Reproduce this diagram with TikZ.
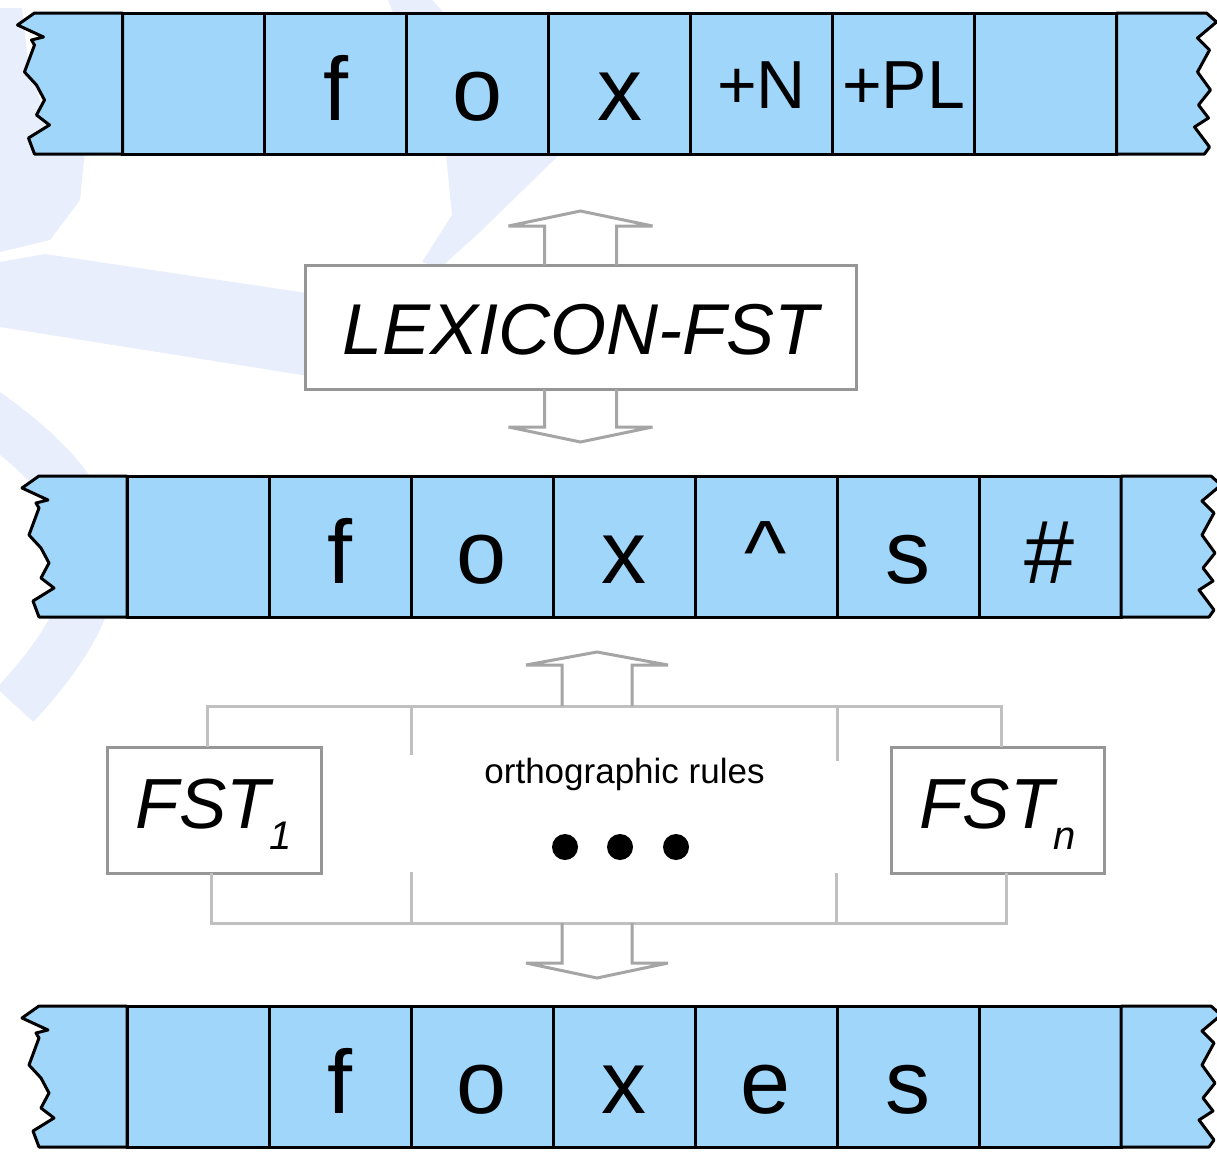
\documentclass[tikz,border=0pt]{standalone}
\usepackage{fontspec}
\setmainfont{Liberation Sans}
\definecolor{tapeblue}{RGB}{160,214,250}
\definecolor{boxgray}{RGB}{150,150,150}
\definecolor{rulegray}{RGB}{192,192,192}
\definecolor{arrowgray}{RGB}{165,165,165}
\definecolor{wmark}{RGB}{232,238,252}
\newcommand\tagtext[1]{\raisebox{12pt}{\fontsize{68}{68}\selectfont #1}}
\begin{document}
\begin{tikzpicture}[x=1pt,y=-1pt,
  tapeend/.style={fill=tapeblue,draw=black,line width=3pt,line join=round},
  cell/.style={draw=black,line width=3pt,fill=tapeblue,minimum width=142pt,
    minimum height=141pt,inner sep=0pt,outer sep=0pt,text height=73pt,text depth=0pt,
    font=\fontsize{90}{90}\selectfont},
  fstbox/.style={draw=boxgray,line width=3pt,fill=white,inner sep=0pt,outer sep=0pt},
  hollow/.style={draw=arrowgray,line width=3pt,line join=miter,miter limit=1.5},
  bracket/.style={draw=rulegray,line width=3pt},
  dot/.style={circle,fill=black,inner sep=0pt,minimum size=26pt}]
\useasboundingbox (0,0) rectangle (1217,1151);
\clip (0,0) rectangle (1217,1151);
\fill[white] (0,0) rectangle (1217,1151);

% faint background watermark
\begin{scope}[wmark]
  \fill (0,8) -- (22,8) -- (28,60) -- (45,118) -- (85,150) -- (80,200) -- (50,240) -- (0,252) -- cycle;
  \fill (45,254) -- (340,298) -- (340,381) -- (0,327) -- (0,262) -- cycle;
  \fill (388,0) -- (432,0) -- (470,40) -- (560,154) -- (523,190) -- (480,232) -- (440,268)
        -- (422,262) -- (452,215) -- (446,154) -- (420,80) -- cycle;
  \draw[line width=50pt] (-25,405) .. controls (105,495) and (140,570) .. (15,705);
\end{scope}

% upper tape: lexical form
\foreach \n/\x/\t in {a/193.5/{}, b/335.5/f, c/477.5/o, d/619.5/x,
                      e/761.5/{\tagtext{+N}}, f/903.5/{\tagtext{+PL}}, g/1045.5/{}}
  \node[cell] (u\n) at (\x,83.5) {\t};
% middle tape: intermediate form
\foreach \n/\x/\t in {a/198/{}, b/340/f, c/482/o, d/624/x, e/766/\^{}, f/908/s, g/1050/\#}
  \node[cell] (m\n) at (\x,546.5) {\t};
% lower tape: surface form
\foreach \n/\x/\t in {a/198/{}, b/340/f, c/482/o, d/624/x, e/766/e, f/908/s, g/1050/{}}
  \node[cell] (l\n) at (\x,1076.5) {\t};

% torn tape ends
\foreach \p in {u,m,l}{
  \draw[tapeend] (\p a.north west) -- ++(-88,0) -- ++(-17,12) -- ++(26,12) -- ++(-12,3)
     -- ++(3,5) -- ++(-10,27) -- ++(12,13) -- ++(8,15) -- ++(-8,15) -- ++(13,10)
     -- ++(-21,13) -- ++(6,16) -- (\p a.south west) -- cycle;
  \draw[tapeend] (\p g.north east) -- ++(90,0) -- ++(10,9) -- ++(-19,16) -- ++(12,12)
     -- ++(-12,22) -- ++(13,18) -- ++(-12,15) -- ++(10,13) -- ++(-14,9) -- ++(15,20)
     -- ++(-5,7) -- (\p g.south east) -- cycle;
}

% lexicon transducer
\node[fstbox,minimum width=551pt,minimum height=124pt,text height=54pt,text depth=0pt,
      font=\fontsize{72}{72}\selectfont\itshape] (lex) at (580.5,327) {LEXICON-FST};
\draw[hollow] ([xshift=-36pt]lex.north) -- ++(0,-39) -- ++(-36,0) -- ++(72,-15)
   -- ++(72,15) -- ++(-36,0) -- ++(0,39);
\draw[hollow] ([xshift=-36pt]lex.south) -- ++(0,38) -- ++(-36,0) -- ++(72,15)
   -- ++(72,-15) -- ++(-36,0) -- ++(0,-38);

% orthographic rule transducers
\node[fstbox,minimum width=214pt,minimum height=126pt,text height=50pt,text depth=14pt,
      font=\fontsize{71}{71}\selectfont\itshape] (fst1) at (214,810)
      {FST\raisebox{-21pt}{\fontsize{40}{40}\selectfont 1}};
\node[fstbox,minimum width=213pt,minimum height=126pt,text height=50pt,text depth=14pt,
      font=\fontsize{71}{71}\selectfont\itshape] (fstn) at (997.5,810)
      {FST\raisebox{-21pt}{\fontsize{40}{40}\selectfont n}};
\node[anchor=base,font=\fontsize{35}{35}\selectfont,inner sep=0pt] (ortho) at (624.5,783)
      {orthographic rules};
\node[dot] (d1) at (565,847) {};
\node[dot] (d2) at (620,847) {};
\node[dot] (d3) at (676,847) {};

\coordinate (topL) at (207,706);
\coordinate (topR) at (1001,706);
\coordinate (botL) at (211,923);
\coordinate (botR) at (1006,923);
\coordinate (oup) at (597,706);
\coordinate (odn) at (597,923);
\draw[bracket] (fst1.north -| topL) -- (topL) -- (topR) -- (fstn.north -| topR);
\draw[bracket] (fst1.south -| botL) -- (botL) -- (botR) -- (fstn.south -| botR);
\draw[bracket] (411,706) -- (411,755);
\draw[bracket] (837,706) -- (837,761);
\draw[bracket] (411,872) -- (411,923);
\draw[bracket] (836,873) -- (836,923);

\draw[hollow] ([xshift=-35pt]oup) -- ++(0,-41) -- ++(-36,0) -- ++(71,-13)
   -- ++(71,13) -- ++(-36,0) -- ++(0,41);
\draw[hollow] ([xshift=-35pt]odn) -- ++(0,40) -- ++(-36,0) -- ++(71,15)
   -- ++(71,-15) -- ++(-36,0) -- ++(0,-40);
\end{tikzpicture}
\end{document}
